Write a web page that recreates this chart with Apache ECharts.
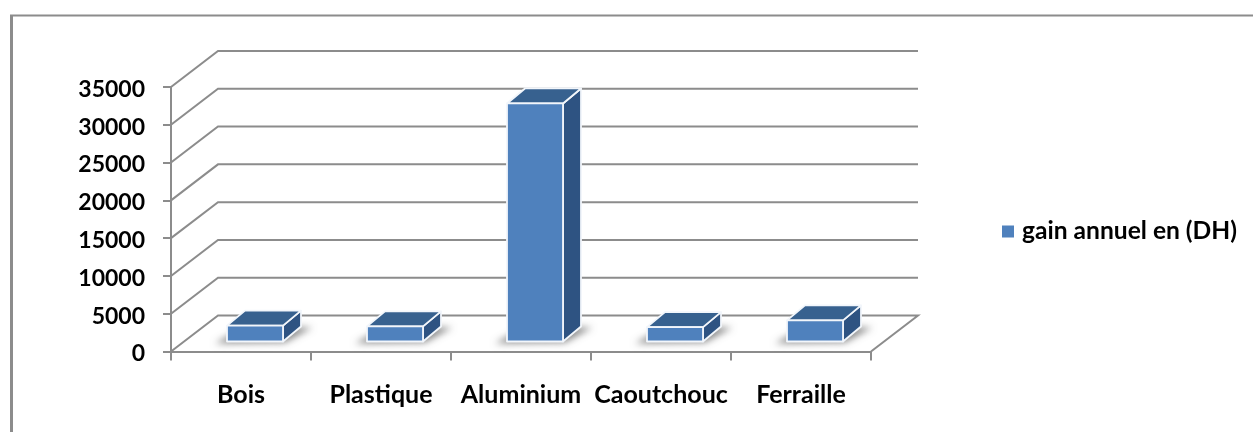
<!DOCTYPE html>
<html>
<head>
<meta charset="utf-8">
<style>html,body{margin:0;padding:0;background:#fff}#chart{width:1253px;height:432px}</style>
<script src="https://cdn.jsdelivr.net/npm/echarts@6/dist/echarts.min.js"></script>
</head>
<body>
<div id="chart"></div>
<script>
const categories = ['Bois', 'Plastique', 'Aluminium', 'Caoutchouc', 'Ferraille'];
const gainAnnuel = [2100, 2000, 31500, 1900, 2800];
const valueTicks = [0, 5000, 10000, 15000, 20000, 25000, 30000, 35000];
const seriesName = 'gain annuel en (DH)';

// Projection of the chart's depth axis on screen
const wallDx = 47, wallDy = -36;
const barShiftX = 14, barShiftY = -10;
const barDepthX = 18, barDepthY = -15;
const barWidth = 56;

const FONT = 'Lato';
const GRID = '#8c8c8c';
const FRONT = '#4f81bd', TOP = '#37618f', SIDE = '#2e5382', EDGE = '#f2f6fb';

// The shadow shape sits off the canvas so that only its blurred cast lands on the floor
const CAST = 3000;

// Back wall and floor lines, one polyline per value tick
function renderWallLine(params, api) {
  const cs = params.coordSys;
  const y = api.coord([0, api.value(0)])[1];
  const shape = { points: [[cs.x, y], [cs.x + wallDx, y + wallDy], [cs.x + cs.width + wallDx, y + wallDy]] };
  if (api.value(0) === 0) {
    shape.points.push([cs.x + cs.width, y]);
  }
  return {
    type: 'polyline',
    shape,
    style: { fill: null, stroke: GRID, lineWidth: 2 },
    silent: true
  };
}

// Box drawn as front, top and side faces, with its shadow on the floor
function renderBox(params, api) {
  const base = api.coord([api.value(0), 0]);
  const head = api.coord([api.value(0), api.value(1)]);
  const x0 = base[0] - barWidth / 2 + barShiftX;
  const x1 = x0 + barWidth;
  const yb = base[1] + barShiftY;
  const yt = head[1] + barShiftY;
  const edge = { stroke: EDGE, lineWidth: 1.8, lineJoin: 'round' };
  return {
    type: 'group',
    silent: true,
    children: [
      {
        type: 'polygon',
        shape: { points: [
          [x0 - 12 - CAST, yb + 2],
          [x1 + 2 - CAST, yb + 1],
          [x1 + barDepthX + 11 - CAST, yb + barDepthY + 1],
          [x0 + barDepthX - CAST, yb + barDepthY]
        ] },
        style: {
          fill: '#666',
          shadowBlur: 7,
          shadowColor: 'rgba(90,90,90,0.7)',
          shadowOffsetX: CAST
        }
      },
      {
        type: 'polygon',
        shape: { points: [[x1, yt], [x1 + barDepthX, yt + barDepthY], [x1 + barDepthX, yb + barDepthY], [x1, yb]] },
        style: Object.assign({ fill: SIDE }, edge)
      },
      {
        type: 'polygon',
        shape: { points: [[x0, yt], [x0 + barDepthX, yt + barDepthY], [x1 + barDepthX, yt + barDepthY], [x1, yt]] },
        style: Object.assign({ fill: TOP }, edge)
      },
      {
        type: 'rect',
        shape: { x: x0, y: yt, width: barWidth, height: yb - yt },
        style: Object.assign({ fill: FRONT }, edge)
      }
    ]
  };
}

const chart = echarts.init(document.getElementById('chart'), null, { renderer: 'canvas' });
chart.setOption({
  animation: false,
  backgroundColor: '#fff',
  grid: { left: 171, top: 87, width: 700, height: 264.5, containLabel: false },
  legend: {
    data: [{ name: seriesName, icon: 'rect' }],
    left: 997,
    top: 214,
    itemWidth: 12,
    itemHeight: 12,
    textStyle: { fontFamily: FONT, fontWeight: 'bold', fontSize: 24.6, color: '#000', padding: [0, 0, 0, 3] }
  },
  xAxis: {
    type: 'category',
    data: categories,
    boundaryGap: true,
    axisLine: { lineStyle: { color: GRID, width: 2 } },
    axisTick: { show: true, alignWithLabel: false, length: 9, lineStyle: { color: GRID, width: 2 } },
    axisLabel: { fontFamily: FONT, fontWeight: 'bold', fontSize: 25, color: '#000', margin: 31, interval: 0 },
    splitLine: { show: false }
  },
  yAxis: {
    type: 'value',
    min: 0,
    max: 35000,
    interval: 5000,
    axisLine: { show: true, lineStyle: { color: GRID, width: 2 } },
    axisTick: { show: true, length: 8, lineStyle: { color: GRID, width: 2 } },
    axisLabel: {
      fontFamily: FONT, fontWeight: 'bold', fontSize: 23, color: '#000', margin: 26,
      verticalAlign: 'top',
      lineHeight: 5,
      formatter: v => String(v)
    },
    splitLine: { show: false }
  },
  graphic: [
    { type: 'line', shape: { x1: 11.5, y1: 15, x2: 11.5, y2: 432 }, style: { stroke: '#8c8c8c', lineWidth: 3 } },
    { type: 'line', shape: { x1: 10, y1: 15.5, x2: 1253, y2: 15.5 }, style: { stroke: '#8c8c8c', lineWidth: 2 } }
  ],
  series: [
    {
      type: 'custom',
      name: 'wall',
      coordinateSystem: 'cartesian2d',
      data: valueTicks.map(v => [v]),
      encode: { y: 0 },
      renderItem: renderWallLine,
      z: 1
    },
    {
      type: 'custom',
      name: seriesName,
      coordinateSystem: 'cartesian2d',
      data: gainAnnuel.map((v, i) => [i, v]),
      encode: { x: 0, y: 1 },
      itemStyle: { color: FRONT },
      renderItem: renderBox,
      z: 3
    }
  ]
});
</script>
</body>
</html>
